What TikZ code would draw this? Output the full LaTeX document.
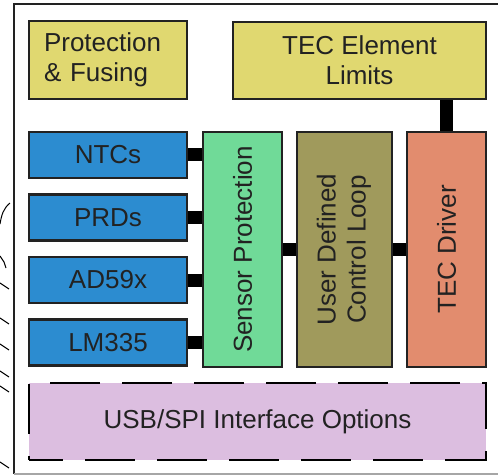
\documentclass[tikz,border=0pt]{standalone}
\usepackage{fontspec}
\setmainfont{Liberation Sans}
\usetikzlibrary{positioning,calc}
\usepackage{xcolor}

\definecolor{limitYellow}{RGB}{224,216,112}
\definecolor{sensorBlue}{RGB}{44,140,208}
\definecolor{protGreen}{RGB}{112,218,152}
\definecolor{loopOlive}{RGB}{160,154,92}
\definecolor{driverOrange}{RGB}{226,140,110}
\definecolor{ifaceLilac}{RGB}{220,190,224}
\definecolor{inkDark}{RGB}{34,34,34}

\begin{document}
\begin{tikzpicture}[
    x=1pt, y=-1pt,
    block/.style={
        draw=inkDark, line width=2.5pt,
        inner sep=0pt, align=center, text=inkDark,
        font=\fontsize{26}{30}\selectfont,
        fill=#1
    },
    sensor/.style={
        block=sensorBlue, minimum width=158pt, minimum height=46pt
    },
    tall/.style={
        block=#1, minimum height=235pt
    },
    link/.style={
        line width=13pt, black
    }
]
\useasboundingbox (0,0) rectangle (498,476);

% Outer frame (open on the right)
\draw[inkDark, line width=2.5pt] (498,4) -- (14,4) -- (14,474);
\draw[black!35, line width=1.5pt] (14,474) -- (498,474);

% Stray marks at the left edge
\draw[black, line width=1pt] (10,203) to[out=220,in=80] (0,224);
\draw[black, line width=1pt] (0,256) -- (4,262) -- (6,268);
\foreach \yy in {283,318,344,371,386,462}
    \draw[black, line width=1pt] (0,\yy) -- (9,\yy+6);

% Top row
\node[block=limitYellow, minimum width=158pt, minimum height=78pt,
      text width=128pt, align=left] (fuse) at (108,60)
    {Protection\\\& Fusing};

\node[block=limitYellow, minimum width=253pt, minimum height=77pt] (limits) at (359.5,60.5)
    {TEC Element\\Limits};

% Temperature sensors
\node[sensor] (ntc) at (108,155) {NTCs};
\node[sensor] (prd) at (108,217.5) {PRDs};
\node[sensor] (adx) at (108,280) {AD59x};
\node[sensor] (lm) at (108,342.5) {LM335};

% Processing chain
\node[tall=protGreen, minimum width=79pt] (sens) at (242.5,249.5)
    {\rotatebox{90}{Sensor Protection}};

\node[tall=loopOlive, minimum width=95pt] (loop) at (344.5,249.5)
    {\rotatebox{90}{\begin{tabular}{@{}c@{}}User Defined\\Control Loop\end{tabular}}};

\node[tall=driverOrange, minimum width=79pt] (driver) at (446.5,249.5)
    {\rotatebox{90}{TEC Driver}};

% Interface
\node[block=ifaceLilac, draw=black, dash pattern=on 50pt off 22pt, dash phase=16pt,
      minimum width=457pt, minimum height=77pt] (iface) at (257.5,421.5)
    {USB/SPI Interface Options};

% Links
\foreach \s in {ntc,prd,adx,lm}
    \draw[link] (\s.east) -- (\s.east -| sens.west);
\draw[link] (sens.east) -- (loop.west);
\draw[link] (loop.east) -- (driver.west);
\draw[link] (driver.north) -- (driver.north |- limits.south);

\end{tikzpicture}
\end{document}
